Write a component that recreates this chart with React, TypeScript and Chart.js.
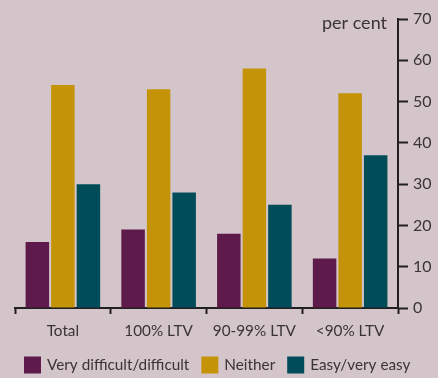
import React, { useEffect, useRef } from "react";
import { Chart, registerables } from "chart.js";

Chart.register(...registerables);

const categories = ["Total", "100% LTV", "90-99% LTV", "<90% LTV"];
const seriesNames = ["Very difficult/difficult", "Neither", "Easy/very easy"];
const veryDifficult = [16, 19, 18, 12];
const neither = [54, 53, 58, 52];
const easy = [30, 28, 25, 37];
const colors = ["#5e1a4b", "#c49307", "#004c58"];
const axisTitle = "per cent";

const BG = "#d3c5ca";
const INK = "#3a3435";
const AXIS = "#231f20";
const FONT = "Lato";

export default function App() {
  const ref = useRef<HTMLCanvasElement>(null);
  useEffect(() => {
    document.body.style.margin = "0";
    document.body.style.background = BG;
    const titlePlugin = {
      id: "perCent",
      afterDraw(chart: any) {
        const ctx = chart.ctx;
        const y = chart.scales.y;
        ctx.save();
        ctx.fillStyle = INK;
        ctx.font = `18px ${FONT}`;
        ctx.textAlign = "right";
        ctx.textBaseline = "middle";
        ctx.fillText(axisTitle, y.left - 11, y.getPixelForValue(70) + 4);
        ctx.restore();
      },
    };
    const legendPlugin = {
      id: "customLegend",
      afterDraw(chart: any) {
        const ctx = chart.ctx;
        ctx.save();
        ctx.font = `15.3px ${FONT}`;
        ctx.textBaseline = "middle";
        ctx.textAlign = "left";
        let x = 24;
        const yc = 365;
        chart.data.datasets.forEach((ds: any) => {
          ctx.fillStyle = ds.backgroundColor;
          ctx.fillRect(x, yc - 8.5, 17, 17);
          x += 17 + 6;
          ctx.fillStyle = INK;
          ctx.fillText(ds.label, x, yc);
          x += ctx.measureText(ds.label).width + 12;
        });
        ctx.restore();
      },
    };
    const chart = new Chart(ref.current!, {
      type: "bar",
      data: {
        labels: categories,
        datasets: [veryDifficult, neither, easy].map((d, i) => ({
          label: seriesNames[i],
          data: d,
          backgroundColor: colors[i],
          borderWidth: 0,
          categoryPercentage: 0.8,
          barPercentage: 0.92,
        })),
      },
      options: {
        animation: false,
        responsive: false,
        maintainAspectRatio: false,
        layout: { padding: { left: 15, top: 19, right: 0, bottom: 32 } },
        plugins: {
          tooltip: { enabled: false },
          legend: { display: false },
        },
        scales: {
          x: {
            grid: {
              drawOnChartArea: false,
              drawTicks: true,
              tickLength: 6,
              tickWidth: 2,
              tickColor: AXIS,
              offset: true,
            },
            border: { color: AXIS, width: 2 },
            ticks: {
              color: INK,
              font: { family: FONT, size: 15.3 },
              padding: 8,
              maxRotation: 0,
            },
            afterFit(scale: any) {
              scale.height = 38;
            },
          },
          y: {
            position: "right",
            min: 0,
            max: 70,
            grid: {
              drawOnChartArea: false,
              tickLength: 10,
              tickWidth: 2,
              tickColor: AXIS,
            },
            border: { color: AXIS, width: 2 },
            ticks: {
              stepSize: 10,
              color: INK,
              font: { family: FONT, size: 16 },
              padding: 5,
            },
            afterFit(scale: any) {
              scale.width = 40;
            },
          },
        },
      },
      plugins: [titlePlugin, legendPlugin],
    });
    return () => chart.destroy();
  }, []);
  return (
    <div style={{ width: 438, height: 378, background: BG }}>
      <canvas ref={ref} width={438} height={378} style={{ display: "block" }} />
    </div>
  );
}
